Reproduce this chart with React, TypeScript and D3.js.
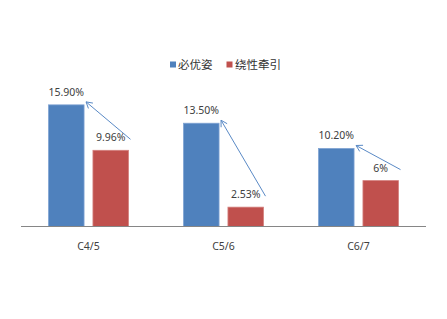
import React from "react";
import * as d3 from "d3";

const categories = ["C4/5", "C5/6", "C6/7"];
const seriesNames = ["必优姿", "绕性牵引"];
const seriesA = [15.9, 13.5, 10.2];
const seriesB = [9.96, 2.53, 6];
const labelsA = ["15.90%", "13.50%", "10.20%"];
const labelsB = ["9.96%", "2.53%", "6%"];
const colors = ["#4F81BD", "#C0504D"];

const W = 447;
const H = 319;

export default function App() {
  const x = d3.scaleBand<string>().domain(categories).range([21, 426]).padding(0);
  const groupW = 80;
  const xs = d3.scaleBand<string>().domain(seriesNames).range([0, groupW]).paddingInner(0.2);
  const y = d3.scaleLinear().domain([0, 18]).range([226.5, 88.8]);
  const bw = xs.bandwidth();
  const series = [seriesA, seriesB];
  const labels = [labelsA, labelsB];
  const font = "'Noto Sans', 'Liberation Sans', sans-serif";

  const arrowHead = (x1: number, y1: number, x2: number, y2: number) => {
    const ang = Math.atan2(y2 - y1, x2 - x1);
    const L = 7;
    const a = Math.PI / 6;
    const p1 = [x2 - L * Math.cos(ang - a), y2 - L * Math.sin(ang - a)];
    const p2 = [x2 - L * Math.cos(ang + a), y2 - L * Math.sin(ang + a)];
    return `M${p1[0]},${p1[1]}L${x2},${y2}L${p2[0]},${p2[1]}`;
  };

  return (
    <svg width={W} height={H} style={{ position: "absolute", left: 0, top: 0, background: "#fff" }}>
      {/* legend */}
      <g fontFamily="'Noto Sans CJK SC', sans-serif" fontSize={11.5} fill="#333">
        <rect x={170} y={61.5} width={6} height={6} fill={colors[0]} />
        <text x={178} y={68.5}>{seriesNames[0]}</text>
        <rect x={226.5} y={61.5} width={6} height={6} fill={colors[1]} />
        <text x={235} y={68.5}>{seriesNames[1]}</text>
      </g>
      {/* bars */}
      {categories.map((c, i) => {
        const gx = (x(c) as number) + x.bandwidth() / 2 - groupW / 2;
        return (
          <g key={c}>
            {series.map((s, k) => {
              const bx = gx + (xs(seriesNames[k]) as number);
              return (
                <g key={k}>
                  <rect
                    x={bx}
                    y={y(s[i])}
                    width={bw}
                    height={y(0) - y(s[i])}
                    fill={colors[k]}
                    stroke={k === 0 ? "#7FA3D3" : "#D4807E"}
                    strokeWidth={0.8}
                  />
                  <text
                    x={bx + bw / 2}
                    y={y(s[i]) - 9}
                    textAnchor="middle"
                    fontFamily={font}
                    fontSize={10.5}
                    fill="#404040"
                  >
                    {labels[k][i]}
                  </text>
                </g>
              );
            })}
          </g>
        );
      })}
      {/* arrows from series B to series A */}
      {categories.map((c, i) => {
        const gx = (x(c) as number) + x.bandwidth() / 2 - groupW / 2;
        const ax = gx + (xs(seriesNames[0]) as number) + bw;
        const bx = gx + (xs(seriesNames[1]) as number) + bw;
        const x1 = bx + 2;
        const y1 = y(seriesB[i]) - 11;
        const x2 = ax + 2;
        const y2 = y(seriesA[i]) - 3;
        return (
          <g key={"a" + c} stroke="#5A8AC6" strokeWidth={1} fill="none">
            <line x1={x1} y1={y1} x2={x2} y2={y2} />
            <path d={arrowHead(x1, y1, x2, y2)} />
          </g>
        );
      })}
      {/* axis */}
      <line x1={21} x2={426} y1={y(0)} y2={y(0)} stroke="#868686" strokeWidth={1} />
      {categories.map((c) => (
        <text
          key={"t" + c}
          x={(x(c) as number) + x.bandwidth() / 2}
          y={250}
          textAnchor="middle"
          fontFamily={font}
          fontSize={10.5}
          fill="#404040"
        >
          {c}
        </text>
      ))}
    </svg>
  );
}
